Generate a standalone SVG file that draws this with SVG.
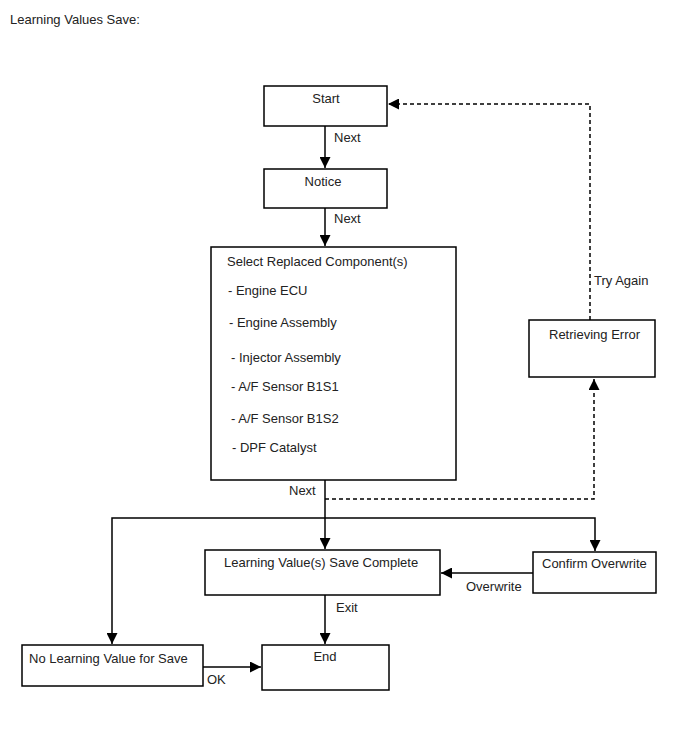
<svg xmlns="http://www.w3.org/2000/svg" width="688" height="755" viewBox="0 0 688 755">
<style>
text{font-family:"Liberation Sans",Arial,sans-serif;font-size:13px;fill:#222}
.box{fill:#fff;stroke:#000;stroke-width:1.5}
.ln{fill:none;stroke:#000;stroke-width:1.5}
.dash{fill:none;stroke:#000;stroke-width:1.5;stroke-dasharray:4 3}
</style>
<defs>
<marker id="ah" viewBox="0 0 10 10" refX="10" refY="5" markerWidth="11" markerHeight="11" markerUnits="userSpaceOnUse" orient="auto">
<path d="M0,0 L10,5 L0,10 Z" fill="#000"/>
</marker>
</defs>
<rect width="688" height="755" fill="#fff"/>
<text x="10" y="24">Learning Values Save:</text>
<g id="connectors">
<line class="ln" x1="325" y1="126" x2="325" y2="168" marker-end="url(#ah)"/>
<line class="ln" x1="325" y1="208" x2="325" y2="246" marker-end="url(#ah)"/>
<line class="ln" x1="325" y1="480" x2="325" y2="549" marker-end="url(#ah)"/>
<polyline class="dash" points="325,499 594,499 594,379" marker-end="url(#ah)"/>
<polyline class="ln" points="325,518 112,518 112,644" marker-end="url(#ah)"/>
<polyline class="ln" points="325,518 595,518 595,551" marker-end="url(#ah)"/>
<line class="ln" x1="533" y1="573" x2="441" y2="573" marker-end="url(#ah)"/>
<line class="ln" x1="325" y1="595" x2="325" y2="644" marker-end="url(#ah)"/>
<line class="ln" x1="203" y1="667" x2="261" y2="667" marker-end="url(#ah)"/>
<polyline class="dash" points="590,320 590,104 388,104" marker-end="url(#ah)"/>
<text x="334" y="142">Next</text>
<text x="334" y="223">Next</text>
<text x="289" y="495">Next</text>
<text x="594" y="285">Try Again</text>
<text x="466" y="591">Overwrite</text>
<text x="336" y="612">Exit</text>
<text x="207" y="684">OK</text>
</g>
<g id="start"><rect class="box" x="264" y="86" width="123" height="40"/><text x="326" y="103" text-anchor="middle">Start</text></g>
<g id="notice"><rect class="box" x="264" y="169" width="123" height="39"/><text x="323" y="186" text-anchor="middle">Notice</text></g>
<g id="select"><rect class="box" x="211" y="247" width="245" height="233"/>
<text x="227" y="266">Select Replaced Component(s)</text>
<text x="228" y="295">- Engine ECU</text>
<text x="229" y="327">- Engine Assembly</text>
<text x="231" y="362">- Injector Assembly</text>
<text x="231" y="391">- A/F Sensor B1S1</text>
<text x="231" y="423">- A/F Sensor B1S2</text>
<text x="232" y="452">- DPF Catalyst</text>
</g>
<g id="retrieving"><rect class="box" x="529" y="320" width="126" height="57"/><text x="549" y="339">Retrieving Error</text></g>
<g id="savecomplete"><rect class="box" x="205" y="550" width="235" height="45"/><text x="224" y="567">Learning Value(s) Save Complete</text></g>
<g id="confirm"><rect class="box" x="533" y="552" width="123" height="41"/><text x="542" y="568">Confirm Overwrite</text></g>
<g id="nolearning"><rect class="box" x="22" y="645" width="181" height="41"/><text x="29" y="663">No Learning Value for Save</text></g>
<g id="end"><rect class="box" x="262" y="645" width="127" height="45"/><text x="325" y="661" text-anchor="middle">End</text></g>
</svg>
